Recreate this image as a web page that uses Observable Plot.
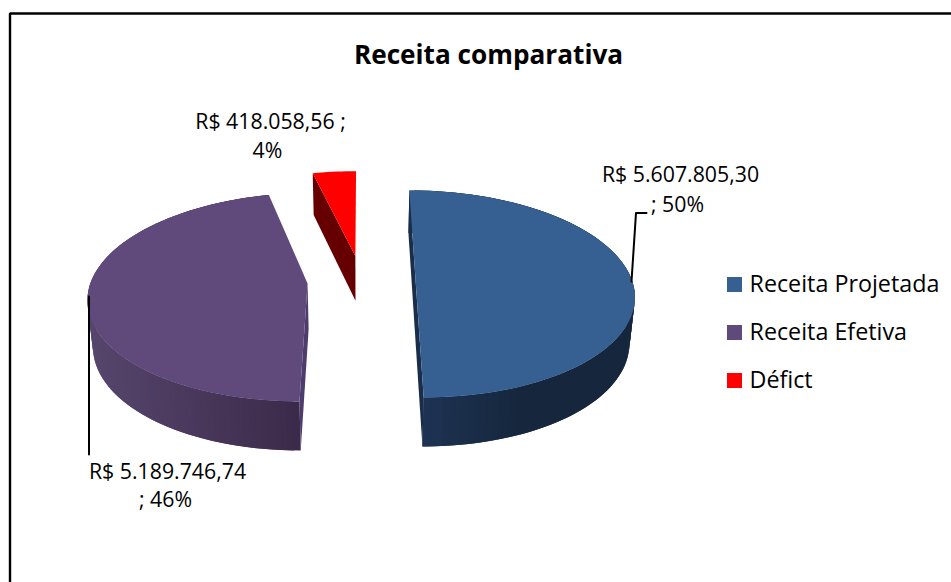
<!DOCTYPE html>
<html>
<head>
<meta charset="utf-8">
<script src="https://cdn.jsdelivr.net/npm/d3@7"></script>
<script src="https://cdn.jsdelivr.net/npm/@observablehq/plot@0.6"></script>
<style>
html,body{margin:0;padding:0;background:#fff}
svg{display:block}
</style>
</head>
<body>
<div id="chart"></div>
<script>
// ---- chart values ----
const categories = ["Receita Projetada", "Receita Efetiva", "Défict"];
const receita = [5607805.30, 5189746.74, 418058.56];
const moneyLabels = ["R$ 5.607.805,30", "R$ 5.189.746,74", "R$ 418.058,56"];
const percentLabels = ["50%", "46%", "4%"];
const chartTitle = "Receita comparativa";
const topColors = ["#376092", "#604a7b", "#ff0000"];
const wallLeft = ["#1f3557", "#57466d", "#660000"];
const wallRight = ["#16273d", "#3b2a49", "#660000"];
const innerWall = ["#1a2e4a", "#4e3d6c", "#660000"];

// ---- perspective of the 3D pie ----
const X0 = 361, Y0 = 280, A = 216.4, B = 101.8, K = 0.13;
const HEIGHT = 45.5, KH = 0.0705, BOTTOM_SHRINK = 0.98, EXPLODE = 0.25;

const arcs = d3.pie().sort(null)(receita);
function project(wx, wz, lower) {
  const d = 1 - K * wz;
  let px = X0 + A * wx / d;
  let py = Y0 + B * wz / d;
  if (lower) {
    px = X0 + (px - X0) * BOTTOM_SHRINK;
    py += HEIGHT / (1 - KH * wz);
  }
  return [px, py];
}
function slicePoint(i, theta, radius, lower) {
  const a = arcs[i];
  const mid = (a.startAngle + a.endAngle) / 2;
  const wx = EXPLODE * Math.sin(mid) + radius * Math.sin(theta);
  const wz = -EXPLODE * Math.cos(mid) - radius * Math.cos(theta);
  return project(wx, wz, lower);
}

const polys = [];
function addPoly(id, color, pts) {
  pts.forEach(p => polys.push({id, color, px: p[0], py: p[1]}));
}
const clamp01 = v => Math.max(0, Math.min(1, v));
[2, 0, 1].forEach(i => {
  const a = arcs[i];
  const span = a.endAngle - a.startAngle;
  const n = Math.max(2, Math.ceil(span / (Math.PI / 120)));
  const thetas = d3.range(n + 1).map(k => a.startAngle + span * k / n);
  // curved outer wall, in overlapping facets for the shading
  if (i !== 2) {
    const xs = thetas.map(t => slicePoint(i, t, 1, false)[0]);
    const [xmin, xmax] = d3.extent(xs);
    const shade = d3.interpolateRgb(wallLeft[i], wallRight[i]);
    for (let k = 0; k < n; k++) {
      const t0 = thetas[k], t1 = thetas[Math.min(n, k + 2)];
      const xm = (xs[k] + xs[k + 1]) / 2;
      const pos = i === 0 ? clamp01((xm - xmin) / 110) : clamp01((xm - xmin) / (xmax - xmin));
      addPoly(`wall-${i}-${k}`, shade(pos), [
        slicePoint(i, t0, 1, false), slicePoint(i, t1, 1, false),
        slicePoint(i, t1, 1, true), slicePoint(i, t0, 1, true)
      ]);
    }
  }
  // straight inner wall facing the viewer
  const pts = i === 0
    ? [slicePoint(i, a.startAngle, 1, false), slicePoint(i, a.endAngle, 1, false), slicePoint(i, a.endAngle, 1, true), slicePoint(i, a.startAngle, 1, true)]
    : [slicePoint(i, a.startAngle, 1, false), slicePoint(i, a.startAngle, 0, false), slicePoint(i, a.startAngle, 0, true), slicePoint(i, a.startAngle, 1, true)];
  addPoly(`inner-${i}`, innerWall[i], pts);
  // top face
  addPoly(`top-${i}`, topColors[i], [slicePoint(i, a.startAngle, 0, false), ...thetas.map(t => slicePoint(i, t, 1, false))]);
});

// ---- annotation layout ----
const FONT = "'Open Sans', Lato, sans-serif";
const dataLabels = [
  {x: 680, y: 175, text: moneyLabels[0]},
  {x: 677, y: 205, text: "; " + percentLabels[0]},
  {x: 167, y: 472, text: moneyLabels[1]},
  {x: 165, y: 500, text: "; " + percentLabels[1]},
  {x: 270, y: 122, text: moneyLabels[2] + " ;"},
  {x: 267, y: 151, text: percentLabels[2]}
];
const legendTop = [277, 325, 373];
const legend = categories.map((c, i) => ({c, color: topColors[i], y: legendTop[i]}));
const leaders = [
  {id: "a", px: 631, py: 281}, {id: "a", px: 635.5, py: 212.5}, {id: "a", px: 646, py: 212.5},
  {id: "b", px: 88.5, py: 296}, {id: "b", px: 88.5, py: 454}
];
const frame = [{px: 951, py: 13}, {px: 9.5, py: 13}, {px: 9.5, py: 582}];

const plot = Plot.plot({
  width: 951, height: 582,
  margin: 0,
  style: {background: "#fff", fontFamily: FONT, color: "#000"},
  x: {domain: [0, 951], range: [0, 951], axis: null},
  y: {domain: [0, 582], range: [0, 582], axis: null},
  color: {type: "identity"},
  marks: [
    Plot.line(frame, {x: "px", y: "py", stroke: "#000", strokeWidth: 2.4, strokeLinejoin: "miter"}),
    Plot.line(polys, {x: "px", y: "py", z: "id", fill: "color", stroke: "none"}),
    Plot.line(leaders, {x: "px", y: "py", z: "id", stroke: "#000", strokeWidth: 2}),
    Plot.text([chartTitle], {x: () => 488, y: () => 55, text: d => d, fontSize: 26.2, fontWeight: 700, fill: "#000"}),
    Plot.text(dataLabels, {x: "x", y: "y", text: "text", fontSize: 21.3, fill: "#000"}),
    Plot.rect(legend, {x1: () => 727, x2: () => 742, y1: "y", y2: d => d.y + 15, fill: "color"}),
    Plot.text(legend, {x: () => 749, y: d => d.y + 7.5, text: "c", textAnchor: "start", fontSize: 23.3, fill: "#000"})
  ]
});
document.getElementById("chart").appendChild(plot);
</script>
</body>
</html>
